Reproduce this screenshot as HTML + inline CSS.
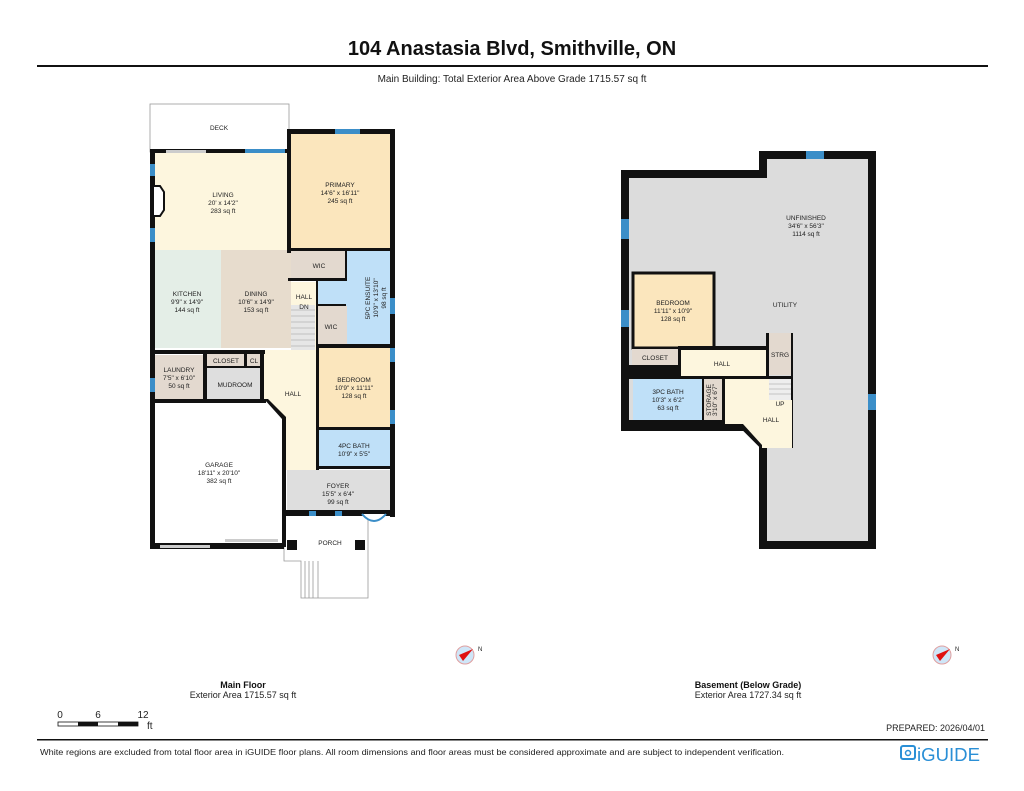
<!DOCTYPE html>
<html><head><meta charset="utf-8"><style>
html,body{margin:0;padding:0;background:#fff;}
svg{display:block;font-family:"Liberation Sans",Arial,sans-serif;}
.l{font-size:6.5px;fill:#222;text-anchor:middle;}
.w{fill:#111;}
</style></head><body>
<svg width="1024" height="791" viewBox="0 0 1024 791" xmlns="http://www.w3.org/2000/svg">
<rect width="1024" height="791" fill="#fff"/>
<text x="512" y="55" font-size="20" font-weight="bold" text-anchor="middle" fill="#111">104 Anastasia Blvd, Smithville, ON</text>
<rect x="37" y="65" width="951" height="2" fill="#111"/>
<text x="512" y="82" font-size="10" text-anchor="middle" fill="#222">Main Building: Total Exterior Area Above Grade 1715.57 sq ft</text>

<!-- MAIN FLOOR -->
<rect x="150" y="104" width="139" height="48" fill="#fff" stroke="#999" stroke-width="0.8"/>
<text class="l" x="219" y="130">DECK</text>
<rect x="153" y="152" width="138" height="98" fill="#fdf6de"/>
<rect x="291" y="134" width="99" height="116" fill="#fbe6bd"/>
<rect x="153" y="250" width="68" height="98" fill="#e4eee7"/>
<rect x="221" y="250" width="70" height="98" fill="#e7dccd"/>
<rect x="291" y="251" width="56" height="29" fill="#e3d9cf"/>
<rect x="347" y="251" width="43" height="93" fill="#bfe0f8"/>
<rect x="318" y="280" width="30" height="26" fill="#bfe0f8"/>
<rect x="291" y="282" width="27" height="90" fill="#fdf6de"/>
<rect x="291" y="305" width="24" height="65" fill="#e6e6e6"/>
<g stroke="#999" stroke-width="0.6">
<line x1="291" y1="310" x2="315" y2="310"/><line x1="291" y1="316" x2="315" y2="316"/><line x1="291" y1="322" x2="315" y2="322"/><line x1="291" y1="328" x2="315" y2="328"/><line x1="291" y1="334" x2="315" y2="334"/><line x1="291" y1="340" x2="315" y2="340"/><line x1="291" y1="346" x2="315" y2="346"/><line x1="291" y1="352" x2="315" y2="352"/><line x1="291" y1="358" x2="315" y2="358"/><line x1="291" y1="364" x2="315" y2="364"/></g>
<rect x="318" y="306" width="29" height="39" fill="#e3d9cf"/>
<rect x="318" y="348" width="72" height="80" fill="#fbe6bd"/>
<rect x="318" y="430" width="72" height="37" fill="#bfe0f8"/>
<polygon points="263,350 318,350 318,470 286,470 286,418 266,400 263,400" fill="#fdf6de"/>
<rect x="287" y="470" width="103" height="43" fill="#dedede"/>
<rect x="155" y="355" width="50" height="45" fill="#e3d9cf"/>
<rect x="207" y="353" width="38" height="14" fill="#e3d9cf"/>
<rect x="247" y="353" width="15" height="14" fill="#e3d9cf"/>
<rect x="207" y="367" width="55" height="33" fill="#dedede"/>
<!-- porch -->
<g stroke="#999" stroke-width="0.8" fill="none">
<polyline points="284,516 284,561 301,561 301,598 368,598 368,516"/>
<line x1="305" y1="561" x2="305" y2="598"/><line x1="309" y1="561" x2="309" y2="598"/><line x1="313" y1="561" x2="313" y2="598"/><line x1="318" y1="561" x2="318" y2="598"/></g>
<text class="l" x="330" y="545">PORCH</text>
<g class="w">
<rect x="150" y="149" width="5" height="400"/>
<rect x="150" y="149" width="141" height="4"/>
<rect x="287" y="129" width="4" height="124"/>
<rect x="287" y="129" width="108" height="5"/>
<rect x="390" y="129" width="5" height="388"/>
<rect x="287" y="248" width="103" height="3"/>
<rect x="288" y="278" width="59" height="3"/>
<rect x="345" y="251" width="2" height="30"/>
<rect x="316" y="280" width="2" height="67"/>
<rect x="316" y="304" width="30" height="2"/>
<rect x="316" y="344" width="74" height="4"/>
<rect x="316" y="344" width="3" height="126"/>
<rect x="316" y="427" width="74" height="3"/>
<rect x="316" y="466" width="74" height="3"/>
<rect x="150" y="350" width="115" height="4"/>
<rect x="203" y="350" width="4" height="52"/>
<rect x="244" y="352" width="3" height="16"/>
<rect x="205" y="366" width="57" height="2"/>
<rect x="260" y="350" width="4" height="52"/>
<rect x="150" y="399" width="116" height="4"/>
<polygon points="264,399 268,399 286,417 286,470 282,470 282,419"/>
<rect x="282" y="417" width="4" height="130"/>
<rect x="283" y="510" width="112" height="6"/>
<rect x="150" y="543" width="134" height="6"/>
<rect x="287" y="540" width="10" height="10"/>
<rect x="355" y="540" width="10" height="10"/>
</g>
<g fill="#3b8ec8">
<rect x="335" y="129" width="25" height="5"/>
<rect x="245" y="149" width="40" height="4"/>
<rect x="150" y="164" width="5" height="12"/>
<rect x="150" y="228" width="5" height="14"/>
<rect x="150" y="378" width="5" height="14"/>
<rect x="390" y="298" width="5" height="16"/>
<rect x="390" y="348" width="5" height="14"/>
<rect x="390" y="410" width="5" height="14"/>
<rect x="309" y="511" width="7" height="5"/>
<rect x="335" y="511" width="7" height="5"/>
</g>
<rect x="166" y="150" width="40" height="3" fill="#ccc"/>
<rect x="160" y="545" width="50" height="3" fill="#ccc"/>
<rect x="225" y="539" width="53" height="3" fill="#ccc"/>
<path d="M362,514 Q374,528 386,514" fill="#fff" stroke="#3b8ec8" stroke-width="2"/>
<polygon points="153,186 160,186 164,192 164,210 160,216 153,216" fill="#fff" stroke="#111" stroke-width="2"/>
<text class="l" x="223" y="197">LIVING</text><text class="l" x="223" y="205">20' x 14'2"</text><text class="l" x="223" y="213">283 sq ft</text>
<text class="l" x="340" y="187">PRIMARY</text><text class="l" x="340" y="195">14'6" x 16'11"</text><text class="l" x="340" y="203">245 sq ft</text>
<text class="l" x="187" y="296">KITCHEN</text><text class="l" x="187" y="304">9'9" x 14'9"</text><text class="l" x="187" y="312">144 sq ft</text>
<text class="l" x="256" y="296">DINING</text><text class="l" x="256" y="304">10'6" x 14'9"</text><text class="l" x="256" y="312">153 sq ft</text>
<text class="l" x="319" y="268">WIC</text>
<text class="l" x="304" y="299">HALL</text><text class="l" x="304" y="309">DN</text>
<text class="l" x="331" y="329">WIC</text>
<text class="l" transform="translate(370,298) rotate(-90)">5PC ENSUITE</text><text class="l" transform="translate(378,298) rotate(-90)">10'9" x 13'10"</text><text class="l" transform="translate(386,298) rotate(-90)">98 sq ft</text>
<text class="l" x="354" y="382">BEDROOM</text><text class="l" x="354" y="390">10'9" x 11'11"</text><text class="l" x="354" y="398">128 sq ft</text>
<text class="l" x="354" y="448">4PC BATH</text><text class="l" x="354" y="456">10'9" x 5'5"</text>
<text class="l" x="338" y="488">FOYER</text><text class="l" x="338" y="496">15'5" x 6'4"</text><text class="l" x="338" y="504">99 sq ft</text>
<text class="l" x="293" y="396">HALL</text>
<text class="l" x="179" y="372">LAUNDRY</text><text class="l" x="179" y="380">7'5" x 6'10"</text><text class="l" x="179" y="388">50 sq ft</text>
<text class="l" x="226" y="363">CLOSET</text><text class="l" x="254" y="363">CL</text>
<text class="l" x="235" y="387">MUDROOM</text>
<text class="l" x="219" y="467">GARAGE</text><text class="l" x="219" y="475">18'11" x 20'10"</text><text class="l" x="219" y="483">382 sq ft</text>

<!-- BASEMENT -->
<polygon points="625,174 763,174 763,155 872,155 872,545 763,545 763,445 745,427 625,427" fill="#dcdcdc" stroke="#111" stroke-width="8" stroke-linejoin="miter"/>
<rect x="633" y="273" width="81" height="75" fill="#fbe6bd" stroke="#111" stroke-width="3"/>
<rect x="632" y="349" width="46" height="16" fill="#e3d9cf"/>
<rect x="680" y="350" width="88" height="26" fill="#fdf6de"/>
<rect x="768" y="333" width="24" height="42" fill="#e3d9cf"/>
<rect x="629" y="365" width="51" height="13" fill="#111"/>
<rect x="678" y="346" width="90" height="4" fill="#111"/>
<rect x="678" y="346" width="3" height="30" fill="#111"/>
<rect x="766" y="333" width="3" height="45" fill="#111"/>
<rect x="791" y="333" width="2" height="115" fill="#111"/>
<rect x="633" y="378" width="69" height="43" fill="#bfe0f8"/>
<rect x="704" y="378" width="18" height="44" fill="#e3d9cf"/>
<polygon points="724,378 769,378 769,400 792,400 792,448 762,448 762,445 743,424 724,424" fill="#fdf6de"/>
<rect x="769" y="378" width="22" height="22" fill="#eee"/>
<g stroke="#999" stroke-width="0.6"><line x1="769" y1="384" x2="791" y2="384"/><line x1="769" y1="389" x2="791" y2="389"/><line x1="769" y1="394" x2="791" y2="394"/></g>
<rect x="629" y="376" width="164" height="3" fill="#111"/>
<rect x="702" y="376" width="2" height="48" fill="#111"/>
<rect x="722" y="376" width="3" height="48" fill="#111"/>
<rect x="629" y="420" width="96" height="7" fill="#111"/>
<g fill="#3b8ec8">
<rect x="806" y="151" width="18" height="8"/>
<rect x="621" y="219" width="8" height="20"/>
<rect x="621" y="310" width="8" height="17"/>
<rect x="868" y="394" width="8" height="16"/>
</g>
<text class="l" x="806" y="220">UNFINISHED</text><text class="l" x="806" y="228">34'6" x 56'3"</text><text class="l" x="806" y="236">1114 sq ft</text>
<text class="l" x="785" y="307">UTILITY</text>
<text class="l" x="673" y="305">BEDROOM</text><text class="l" x="673" y="313">11'11" x 10'9"</text><text class="l" x="673" y="321">128 sq ft</text>
<text class="l" x="655" y="360">CLOSET</text>
<text class="l" x="722" y="366">HALL</text>
<text class="l" x="780" y="357">STRG</text>
<text class="l" x="668" y="394">3PC BATH</text><text class="l" x="668" y="402">10'3" x 6'2"</text><text class="l" x="668" y="410">63 sq ft</text>
<text class="l" font-size="5.5" transform="translate(711,400) rotate(-90)">STORAGE</text><text class="l" font-size="5.5" transform="translate(717,400) rotate(-90)">3'10" x 6'7"</text>
<text class="l" x="780" y="406">UP</text>
<text class="l" x="771" y="422">HALL</text>

<g transform="translate(465,655)"><circle r="9" fill="#cfe6f8" stroke="#e0a0a0" stroke-width="1"/><polygon points="8,-6 -6,0 -2,6" fill="#e01010"/><text x="13" y="-4" font-size="6" fill="#222">N</text></g>
<g transform="translate(942,655)"><circle r="9" fill="#cfe6f8" stroke="#e0a0a0" stroke-width="1"/><polygon points="8,-6 -6,0 -2,6" fill="#e01010"/><text x="13" y="-4" font-size="6" fill="#222">N</text></g>

<text x="243" y="688" font-size="9" font-weight="bold" text-anchor="middle" fill="#111">Main Floor</text>
<text x="243" y="698" font-size="9" text-anchor="middle" fill="#222">Exterior Area 1715.57 sq ft</text>
<text x="748" y="688" font-size="9" font-weight="bold" text-anchor="middle" fill="#111">Basement (Below Grade)</text>
<text x="748" y="698" font-size="9" text-anchor="middle" fill="#222">Exterior Area 1727.34 sq ft</text>

<text x="60" y="718" font-size="10" text-anchor="middle" fill="#222">0</text>
<text x="98" y="718" font-size="10" text-anchor="middle" fill="#222">6</text>
<text x="143" y="718" font-size="10" text-anchor="middle" fill="#222">12</text>
<rect x="58" y="722" width="80" height="4" fill="#fff" stroke="#111" stroke-width="0.8"/>
<rect x="78" y="722" width="20" height="4" fill="#111"/><rect x="118" y="722" width="20" height="4" fill="#111"/>
<text x="147" y="729" font-size="10" fill="#222">ft</text>
<text x="985" y="731" font-size="9" text-anchor="end" fill="#222">PREPARED: 2026/04/01</text>
<rect x="37" y="739" width="951" height="1.5" fill="#111"/>
<text x="40" y="755" font-size="8.3" fill="#222" textLength="744" lengthAdjust="spacingAndGlyphs">White regions are excluded from total floor area in iGUIDE floor plans. All room dimensions and floor areas must be considered approximate and are subject to independent verification.</text>
<rect x="901" y="746" width="14" height="13" rx="2" fill="none" stroke="#2a8fd6" stroke-width="2"/>
<circle cx="908" cy="753" r="2.5" fill="none" stroke="#2a8fd6" stroke-width="1.5"/>
<text x="917" y="761" font-size="18" fill="#2a8fd6" textLength="63" lengthAdjust="spacingAndGlyphs">iGUIDE</text>
</svg>
</body></html>
